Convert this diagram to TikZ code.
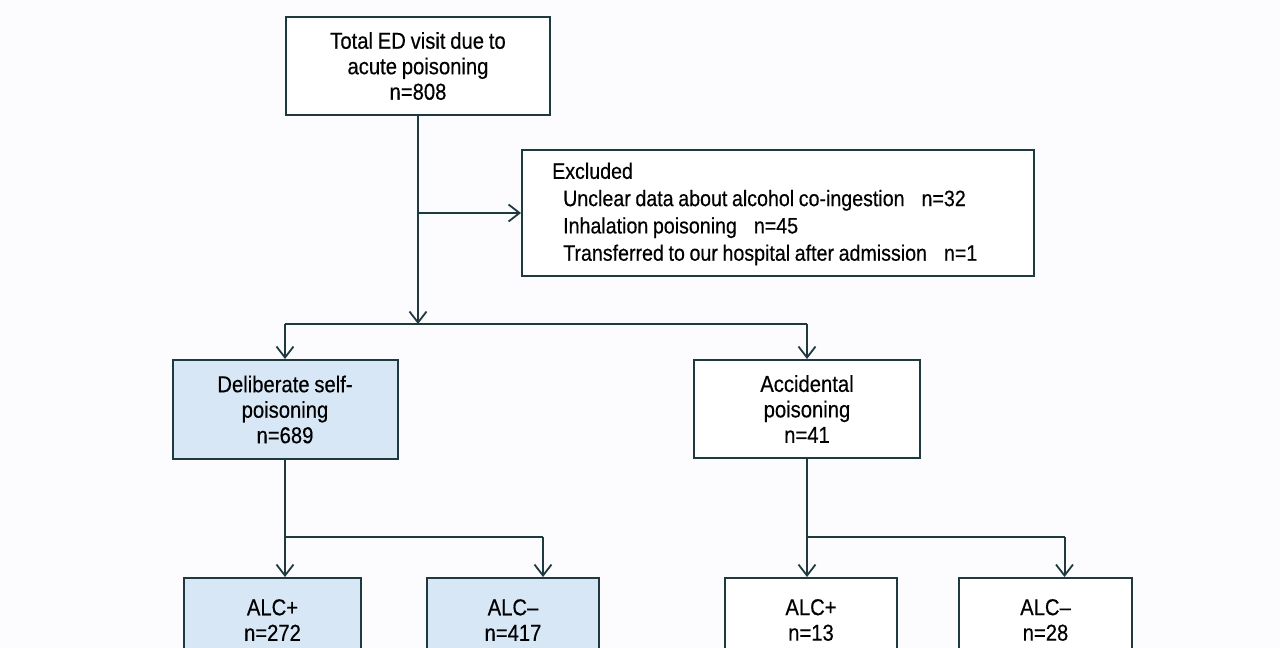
\documentclass[tikz,border=0pt]{standalone}
\usepackage{fontspec}
\setmainfont{Liberation Sans}[FakeStretch=0.88, WordSpace=0.85, FakeBold=0.4]
\usetikzlibrary{arrows.meta}
\definecolor{linec}{HTML}{1E3A3F}
\definecolor{bluef}{HTML}{D7E7F5}
\definecolor{bgc}{HTML}{FCFCFE}
\tikzset{
  box/.style={draw=linec, line width=2pt, rectangle, inner sep=0pt, align=center,
     font=\fontsize{23}{25.5}\selectfont},
  bluebox/.style={box, fill=bluef},
  wbox/.style={box, fill=white},
  conn/.style={draw=linec, line width=2pt},
  arr/.style={conn, -{Straight Barb[length=11pt, width=17pt, line width=1.8pt]}},
}
\begin{document}
\begin{tikzpicture}[x=1pt, y=-1pt]
\useasboundingbox (0,0) rectangle (1280,648);
\fill[bgc] (0,0) rectangle (1280,648);
\clip (0,0) rectangle (1280,648);

\node[wbox, minimum width=264pt, minimum height=98pt] (top) at (418,66)
  {Total ED visit due to\\acute poisoning\\n=808};
\node[wbox, minimum width=512pt, minimum height=126pt] (excl) at (778,213) {};
\node[anchor=west, inner sep=0pt, align=left,
      font=\fontsize{22.3}{27.3}\selectfont] (excltext) at ([xshift=31pt, yshift=-1pt]excl.west)
  {Excluded\\
   \hspace*{11pt}Unclear data about alcohol co-ingestion\hspace{17pt}n=32\\
   \hspace*{11pt}Inhalation poisoning\hspace{17pt}n=45\\
   \hspace*{11pt}Transferred to our hospital after admission\hspace{17pt}n=1};
\node[bluebox, minimum width=225pt, minimum height=99pt] (dsp) at (285,409.5)
  {Deliberate self-\\poisoning\\n=689};
\node[wbox, minimum width=226pt, minimum height=98pt] (acc) at (807,409)
  {Accidental\\poisoning\\n=41};
\node[bluebox, minimum width=177pt, minimum height=84pt] (a1) at (272.5,620)
  {ALC+\\n=272};
\node[bluebox, minimum width=172pt, minimum height=84pt] (a2) at (513,620)
  {ALC--\\n=417};
\node[wbox, minimum width=172pt, minimum height=84pt] (a3) at (811,620)
  {ALC+\\n=13};
\node[wbox, minimum width=173pt, minimum height=84pt] (a4) at (1045.5,620)
  {ALC--\\n=28};

\coordinate (j1) at (418,324);
\coordinate (j2) at (285,537);
\coordinate (j3) at (807,537);

\draw[arr] (top.south) -- (j1);
\draw[arr] (top.south |- excl.west) -- (excl.west);
\draw[conn] (dsp.north |- j1) -- (acc.north |- j1);
\draw[arr] (dsp.north |- j1) -- (dsp.north);
\draw[arr] (acc.north |- j1) -- (acc.north);

\draw[conn] (dsp.south) -- (j2);
\draw[conn] (j2) -- ([xshift=30pt]a2.north |- j2);
\draw[arr] (j2) -- (j2 |- a1.north);
\draw[arr] ([xshift=30pt]a2.north |- j2) -- ([xshift=30pt]a2.north);

\draw[conn] (acc.south) -- (j3);
\draw[conn] (j3) -- ([xshift=19pt]a4.north |- j3);
\draw[arr] (j3) -- (j3 |- a3.north);
\draw[arr] ([xshift=19pt]a4.north |- j3) -- ([xshift=19pt]a4.north);
\end{tikzpicture}
\end{document}
